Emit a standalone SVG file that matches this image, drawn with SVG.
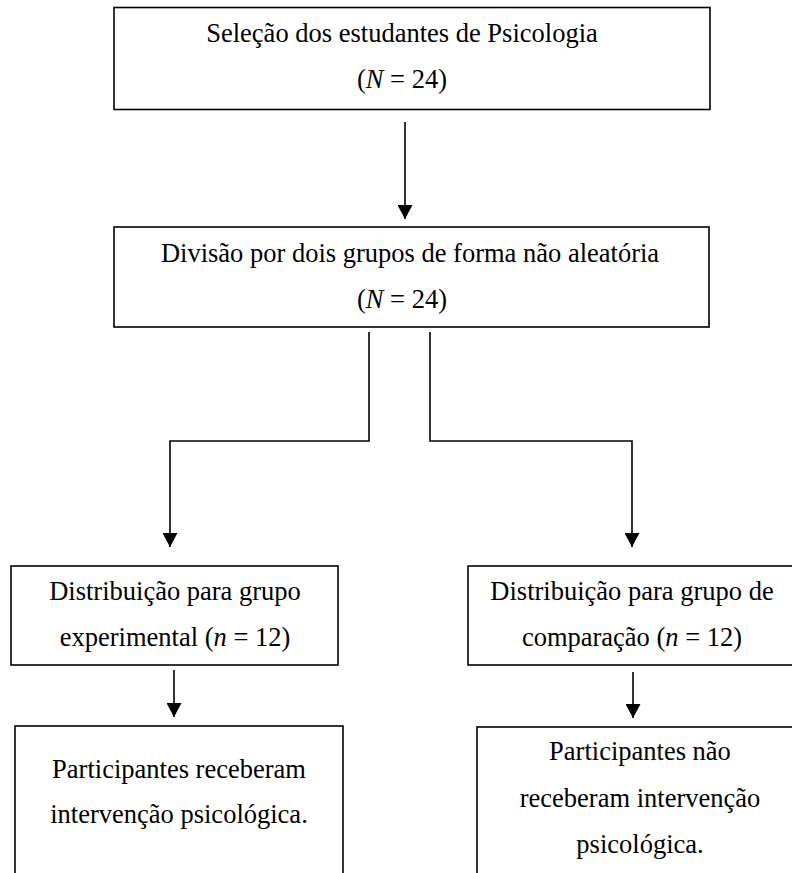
<svg xmlns="http://www.w3.org/2000/svg" width="792" height="873" viewBox="0 0 792 873">
<style>
.box{fill:#fff;stroke:#000;stroke-width:1.6}
.t{font-family:"Liberation Serif","Times New Roman",serif;font-size:26.5px;fill:#000;text-anchor:middle}
.i{font-style:italic}
.c{fill:none;stroke:#000;stroke-width:1.6}
</style>
<defs>
<marker id="ah" markerWidth="14" markerHeight="15" refX="14" refY="7.5" orient="auto" markerUnits="userSpaceOnUse">
<path d="M0,0 L14,7.5 L0,15 Z" fill="#000"/>
</marker>
</defs>
<g id="connectors">
<path class="c" d="M405,122 V219" marker-end="url(#ah)"/>
<path class="c" d="M369,332 V441 H170 V547" marker-end="url(#ah)"/>
<path class="c" d="M430,332 V441 H632 V547" marker-end="url(#ah)"/>
<path class="c" d="M174,670 V717" marker-end="url(#ah)"/>
<path class="c" d="M633,672 V718" marker-end="url(#ah)"/>
</g>
<g id="n1">
<rect class="box" x="114" y="7.5" width="596" height="102"/>
<text class="t" x="402" y="42">Seleção dos estudantes de Psicologia</text>
<text class="t" x="402" y="88">(<tspan class="i">N</tspan> = 24)</text>
</g>
<g id="n2">
<rect class="box" x="114" y="227" width="595" height="100"/>
<text class="t" x="410" y="262">Divisão por dois grupos de forma não aleatória</text>
<text class="t" x="402" y="308">(<tspan class="i">N</tspan> = 24)</text>
</g>
<g id="n3">
<rect class="box" x="11" y="566" width="327" height="99"/>
<text class="t" x="175" y="600">Distribuição para grupo</text>
<text class="t" x="175" y="646">experimental (<tspan class="i">n</tspan> = 12)</text>
</g>
<g id="n4">
<rect class="box" x="468" y="566" width="330" height="99"/>
<text class="t" x="632" y="600">Distribuição para grupo de</text>
<text class="t" x="632" y="646">comparação (<tspan class="i">n</tspan> = 12)</text>
</g>
<g id="n5">
<rect class="box" x="15" y="726" width="328" height="160"/>
<text class="t" x="179" y="778">Participantes receberam</text>
<text class="t" x="179" y="823">intervenção psicológica.</text>
</g>
<g id="n6">
<rect class="box" x="477" y="727" width="330" height="160"/>
<text class="t" x="640" y="760">Participantes não</text>
<text class="t" x="640" y="807">receberam intervenção</text>
<text class="t" x="640" y="853">psicológica.</text>
</g>
</svg>
